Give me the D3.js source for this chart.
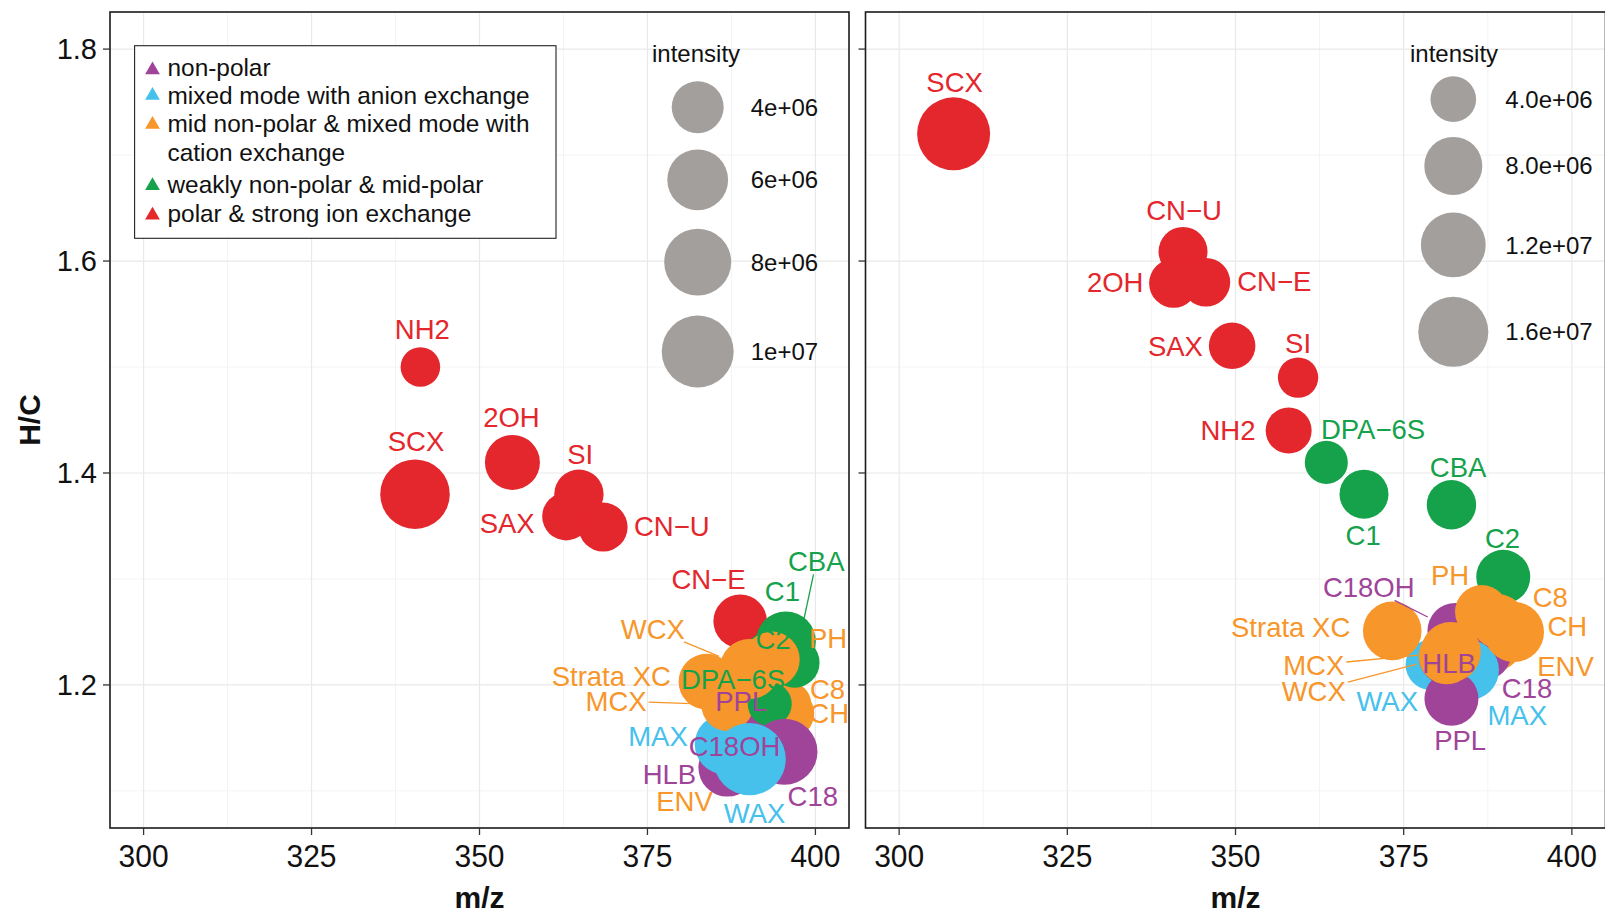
<!DOCTYPE html>
<html>
<head>
<meta charset="utf-8">
<script src="https://cdn.jsdelivr.net/npm/d3@7"></script>
<style>
  body { margin: 0; background: #fff; }
  svg { display: block; font-family: "Liberation Sans", Arial, Helvetica, sans-serif; }
</style>
</head>
<body>
<svg id="chart" width="1605" height="917"></svg>
<script>
// ---- data -------------------------------------------------------------
const groupKeys   = ["np", "ax", "mid", "wk", "pol"];
const groupLabels = [
  ["non-polar"],
  ["mixed mode with anion exchange"],
  ["mid non-polar & mixed mode with", "cation exchange"],
  ["weakly non-polar & mid-polar"],
  ["polar & strong ion exchange"]
];

const xTicks = [300, 325, 350, 375, 400];
const yTicks = [1.2, 1.4, 1.6, 1.8];

// left panel
const leftNames = ["NH2","SCX","2OH","SAX","CN\u2212U","SI","CN\u2212E","C1","C8","CH","CBA","C2",
                   "PPL","C18OH","ENV","HLB","MAX","Strata XC","MCX","PH","DPA\u22126S","WCX","C18","WAX"];
const leftGroup = ["pol","pol","pol","pol","pol","pol","pol","wk","mid","mid","wk","wk",
                   "np","np","mid","np","ax","mid","mid","mid","wk","mid","np","ax"];
const leftMz    = [341.2,340.4,354.9,362.9,368.4,364.8,388.8,395.6,396.1,396.1,396.9,393.2,
                   390.2,389.9,388.4,386.9,386.5,383.8,386.9,393.5,393.2,390.2,395.4,390.2];
const leftHC    = [1.500,1.380,1.410,1.359,1.349,1.380,1.260,1.241,1.182,1.173,1.221,1.224,
                   1.169,1.139,1.120,1.122,1.144,1.203,1.181,1.224,1.182,1.215,1.137,1.130];
const leftIntensity = [2.97e6,9.0e6,4.56e6,3.44e6,3.56e6,3.61e6,4.28e6,5.76e6,3.1e6,3.69e6,3.69e6,4.77e6,
                   3.44e6,4.0e6,3.44e6,5.24e6,5.76e6,4.77e6,4.0e6,4.77e6,3.1e6,5.76e6,7.64e6,1.02e7];
const leftSizeBreaks = [4e6, 6e6, 8e6, 1e7];
const leftSizeLabels = ["4e+06", "6e+06", "8e+06", "1e+07"];

// right panel
const rightNames = ["SCX","CN\u2212U","2OH","CN\u2212E","SAX","SI","NH2","DPA\u22126S","C1","CBA","C2","C18OH",
                    "ENV","C18","WAX","MAX","PPL","HLB","Strata XC","WCX","MCX","PH","C8","CH"];
const rightGroup = ["pol","pol","pol","pol","pol","pol","pol","wk","wk","wk","wk","np",
                    "mid","np","ax","ax","np","np","mid","mid","mid","mid","mid","mid"];
const rightMz    = [308.1,342.2,340.8,345.6,349.5,359.3,357.9,363.5,369.1,382.1,389.8,382.7,
                    388.7,386.9,379.0,384.7,382.1,381.3,373.3,381.4,382.0,386.6,389.1,391.4];
const rightHC    = [1.720,1.609,1.579,1.580,1.520,1.490,1.440,1.410,1.380,1.370,1.302,1.251,
                    1.238,1.231,1.219,1.214,1.187,1.226,1.251,1.227,1.231,1.269,1.260,1.250];
const rightIntensity = [1.861e7,4.66e6,4.66e6,4.57e6,4.16e6,3.62e6,4.06e6,3.72e6,4.66e6,4.76e6,6.23e6,7.05e6,
                    5.52e6,7.05e6,4.92e6,9.04e6,6.23e6,6.23e6,8.29e6,7.05e6,9.04e6,6.0e6,6.23e6,9.04e6];
const rightSizeBreaks = [4e6, 8e6, 1.2e7, 1.6e7];
const rightSizeLabels = ["4.0e+06", "8.0e+06", "1.2e+07", "1.6e+07"];

// ---- label placement (pixel nudges from each point; true = leader line) --
const leftNudge = [[2,-37.5],[1,-52.6],[-1,-45.4],[-59,6.6],[68.7,-1.1],[1.3,-40.4],[-31.7,-41.7],
  [-3.4,-50],[38.3,-15],[40,-0.7],[21.7,-101.3,true],[3.3,-20],[-8.3,-16.3],[-13,-3.3],[-53,31.7],
  [-58,7],[-66.7,-8.3],[-95.3,-5.3],[-111.3,-4.3,true],[56.3,-21.7],[-36.7,-25],[-96.7,-40,true],
  [28.3,44.7],[5,54]];
const rightNudge = [[1,-51.8],[1,-41.7],[-58.4,-1.6],[68.4,-1],[-56.7,0.7],[0,-34.4],[-60.7,-0.7],
  [46.7,-33.4],[-0.8,41.3],[6.6,-38],[-0.7,-39],[-86.7,-43.4,true],[69.7,21],[43.3,36.3],[-43.4,36.7],
  [48.3,45],[8.7,41],[3,5.3],[-101.6,-3.4],[-133,34.7,true],[-137,13,true],[-31.6,-36.7],[51.7,-23.7],
  [53.3,-6]];

// ---- style --------------------------------------------------------------
const color = d3.scaleOrdinal()
  .domain(groupKeys)
  .range(["#a0449a", "#46c1ec", "#f7962a", "#15a24b", "#e4262d"]);
const keyGrey = "#a39f9c";
const labelSize = 27.5;
const yTickSize = 29;
const xTickSize = 31;

const svg = d3.select("#chart");
const plotTop = 12, plotBottom = 828;

const y = d3.scaleLinear().domain([1.065, 1.835]).range([plotBottom, plotTop]);

function sizeScale(values, range) {
  const [lo, hi] = d3.extent(values);
  const s = d3.scaleSqrt().domain([0, hi - lo]).range(range);
  return v => s(v - lo);
}

function drawPanel(cfg) {
  const x = d3.scaleLinear().domain([295, 405]).range([cfg.x0, cfg.x1]);
  const r = sizeScale(cfg.intensity, cfg.sizeRange);
  const g = svg.append("g");

  const clipId = "clip" + cfg.id;
  svg.append("clipPath").attr("id", clipId)
    .append("rect").attr("x", cfg.x0).attr("y", plotTop)
    .attr("width", cfg.x1 - cfg.x0).attr("height", plotBottom - plotTop);

  const body = g.append("g").attr("clip-path", `url(#${clipId})`);

  // grid
  const xMinor = d3.range(287.5, 410, 25);
  const yMinor = [1.1, 1.3, 1.5, 1.7];
  body.append("g").selectAll("line").data(xMinor).join("line")
    .attr("x1", d => x(d)).attr("x2", d => x(d)).attr("y1", plotTop).attr("y2", plotBottom)
    .attr("stroke", "#f4f4f4").attr("stroke-width", 1);
  body.append("g").selectAll("line").data(yMinor).join("line")
    .attr("y1", d => y(d)).attr("y2", d => y(d)).attr("x1", cfg.x0).attr("x2", cfg.x1)
    .attr("stroke", "#f4f4f4").attr("stroke-width", 1);
  body.append("g").selectAll("line").data(xTicks).join("line")
    .attr("x1", d => x(d)).attr("x2", d => x(d)).attr("y1", plotTop).attr("y2", plotBottom)
    .attr("stroke", "#e9e9e9").attr("stroke-width", 1.2);
  body.append("g").selectAll("line").data(yTicks).join("line")
    .attr("y1", d => y(d)).attr("y2", d => y(d)).attr("x1", cfg.x0).attr("x2", cfg.x1)
    .attr("stroke", "#e9e9e9").attr("stroke-width", 1.2);

  const pts = cfg.names.map((n, i) => ({
    name: n, group: cfg.group[i], mz: cfg.mz[i], hc: cfg.hc[i],
    intensity: cfg.intensity[i], nudge: cfg.nudge[i]
  }));
  pts.forEach(p => { p.px = x(p.mz); p.py = y(p.hc); p.r = r(p.intensity); });

  // size legend (drawn before the points so that points sit on top)
  const lg = body.append("g");
  lg.append("text").attr("x", cfg.legendTitleX).attr("y", 62)
    .attr("font-size", 24).attr("fill", "#111").text("intensity");
  let cursor = cfg.legendKeyTop;
  cfg.sizeBreaks.forEach((b, i) => {
    const rr = r(b);
    const h = rr * 2 * 1.288;
    const cy = cursor + h / 2;
    cursor += h;
    lg.append("circle").attr("cx", cfg.legendKeyX).attr("cy", cy).attr("r", rr).attr("fill", keyGrey);
    lg.append("text").attr("x", cfg.legendLabelX).attr("y", cy + 0.358 * 24)
      .attr("font-size", 24).attr("fill", "#111").text(cfg.sizeLabels[i]);
  });

  // points
  body.append("g").selectAll("circle").data(pts).join("circle")
    .attr("cx", d => d.px).attr("cy", d => d.py).attr("r", d => d.r)
    .attr("fill", d => color(d.group));

  // labels with leader lines
  const lab = body.append("g");
  pts.forEach(p => {
    const lx = p.px + p.nudge[0], ly = p.py + p.nudge[1];
    const t = lab.append("text")
      .attr("x", lx).attr("y", ly + 0.358 * labelSize)
      .attr("text-anchor", "middle").attr("font-size", labelSize)
      .attr("fill", color(p.group)).text(p.name);
    if (p.nudge[2]) {
      const w = t.node().getComputedTextLength();
      const dx = p.px - lx, dy = p.py - ly, d = Math.hypot(dx, dy);
      const ux = dx / d, uy = dy / d;
      const hw = w / 2 + 2, hh = 0.36 * labelSize + 3;
      const tt = Math.min(ux ? hw / Math.abs(ux) : 1e9, uy ? hh / Math.abs(uy) : 1e9);
      lab.insert("line", "text")
        .attr("x1", lx + ux * tt).attr("y1", ly + uy * tt)
        .attr("x2", p.px - ux * (p.r + 3)).attr("y2", p.py - uy * (p.r + 3))
        .attr("stroke", color(p.group)).attr("stroke-width", 1.3);
    }
  });

  // frame
  g.append("rect").attr("x", cfg.x0).attr("y", plotTop)
    .attr("width", cfg.x1 - cfg.x0).attr("height", plotBottom - plotTop)
    .attr("fill", "none").attr("stroke", "#1a1a1a").attr("stroke-width", 1.6);

  // x axis
  const xa = g.append("g");
  xTicks.forEach(v => {
    xa.append("line").attr("x1", x(v)).attr("x2", x(v)).attr("y1", plotBottom).attr("y2", plotBottom + 7)
      .attr("stroke", "#333").attr("stroke-width", 1.3);
    xa.append("text").attr("x", x(v)).attr("y", 856 + 0.358 * xTickSize)
      .attr("text-anchor", "middle").attr("font-size", xTickSize).attr("fill", "#111")
      .attr("textLength", 50).attr("lengthAdjust", "spacingAndGlyphs")
      .text(d3.format("d")(v));
  });
  xa.append("text").attr("x", (cfg.x0 + cfg.x1) / 2).attr("y", 908)
    .attr("text-anchor", "middle").attr("font-size", 30).attr("font-weight", "bold")
    .attr("fill", "#111").text("m/z");

  // y ticks
  yTicks.forEach(v => {
    g.append("line").attr("x1", cfg.x0 - 7).attr("x2", cfg.x0).attr("y1", y(v)).attr("y2", y(v))
      .attr("stroke", "#333").attr("stroke-width", 1.3);
    if (cfg.yLabels) {
      g.append("text").attr("x", cfg.x0 - 13).attr("y", y(v) + 0.358 * yTickSize)
        .attr("text-anchor", "end").attr("font-size", yTickSize).attr("fill", "#111")
        .text(d3.format(".1f")(v));
    }
  });
  return { x, r };
}

drawPanel({
  id: "L", x0: 110, x1: 849, yLabels: true,
  names: leftNames, group: leftGroup, mz: leftMz, hc: leftHC, intensity: leftIntensity,
  nudge: leftNudge, sizeRange: [19.8, 36.2],
  sizeBreaks: leftSizeBreaks, sizeLabels: leftSizeLabels,
  legendTitleX: 652, legendKeyX: 697.7, legendLabelX: 750.7, legendKeyTop: 73.7
});

drawPanel({
  id: "R", x0: 865.5, x1: 1605.5, yLabels: false,
  names: rightNames, group: rightGroup, mz: rightMz, hc: rightHC, intensity: rightIntensity,
  nudge: rightNudge, sizeRange: [20.2, 36.5],
  sizeBreaks: rightSizeBreaks, sizeLabels: rightSizeLabels,
  legendTitleX: 1410, legendKeyX: 1453.3, legendLabelX: 1505.3, legendKeyTop: 69.8
});

// y axis title
svg.append("text")
  .attr("transform", "translate(40,420) rotate(-90)")
  .attr("text-anchor", "middle").attr("font-size", 30).attr("font-weight", "bold")
  .attr("fill", "#111").text("H/C");

// colour legend
const leg = svg.append("g");
leg.append("rect").attr("x", 134.6).attr("y", 45.7).attr("width", 421.4).attr("height", 192.6)
  .attr("fill", "#fff").attr("stroke", "#222").attr("stroke-width", 1.1);
const rowKeyY = [69, 94.5, 123.5, 184.7, 214.2];
const rowTextY = [76, 104, 131.5, 192.5, 221.5];
const tri = d3.symbol().type(d3.symbolTriangle).size(95);
groupKeys.forEach((k, i) => {
  leg.append("path").attr("d", tri)
    .attr("transform", `translate(152.5,${rowKeyY[i] + 1})`)
    .attr("fill", color(k));
  const t = leg.append("text").attr("x", 167.5).attr("y", rowTextY[i])
    .attr("font-size", 24.4).attr("fill", "#111");
  groupLabels[i].forEach((line, j) => {
    t.append("tspan").attr("x", 167.5).attr("dy", j ? 29.3 : 0).text(line);
  });
});
</script>
</body>
</html>
